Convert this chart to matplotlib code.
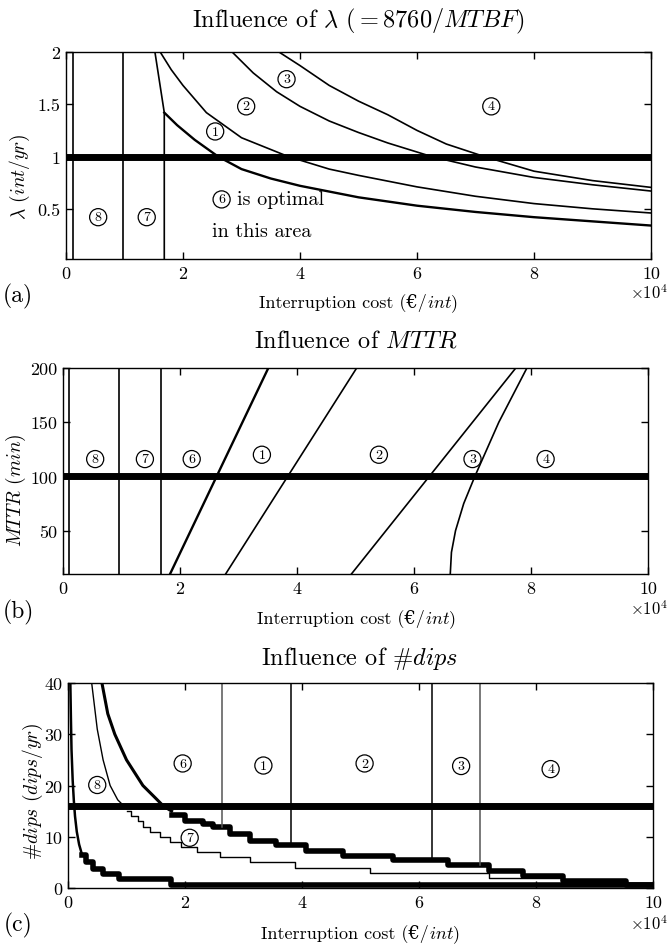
import numpy as np
import matplotlib
matplotlib.use("Agg")
import matplotlib.pyplot as plt

plt.rcParams['mathtext.fontset'] = 'cm'
plt.rcParams['font.family'] = ['cmr10', 'DejaVu Serif']
plt.rcParams['axes.formatter.use_mathtext'] = True

# ---------------- data (x in units of 1e4 EUR/int) ----------------
# Panel (a): lambda boundaries
a_vlines = [0.12, 0.97]
a_b76_x = [1.52, 1.68, 1.68]
a_b76_y = [2.0, 1.42, 0.02]
a_c61_x = [1.68, 1.9, 2.2, 2.6, 3.0, 3.5, 4.0, 5.0, 6.0, 7.0, 8.0, 9.0, 10.0]
a_c61_y = [1.42, 1.30, 1.16, 1.00, 0.88, 0.79, 0.72, 0.61, 0.53, 0.47, 0.42, 0.38, 0.34]
a_c12_x = [1.61, 1.8, 2.0, 2.4, 3.0, 3.8, 4.5, 5.0, 6.0, 7.0, 8.0, 9.0, 10.0]
a_c12_y = [2.0, 1.83, 1.68, 1.42, 1.18, 1.0, 0.88, 0.82, 0.71, 0.62, 0.55, 0.50, 0.46]
a_c23_x = [2.84, 3.2, 3.6, 4.0, 4.5, 5.0, 5.5, 6.25, 7.0, 8.0, 9.0, 10.0]
a_c23_y = [2.0, 1.8, 1.62, 1.48, 1.34, 1.23, 1.13, 1.0, 0.9, 0.8, 0.73, 0.67]
a_c34_x = [3.64, 4.0, 4.5, 5.0, 5.5, 6.0, 6.5, 7.15, 8.0, 9.0, 10.0]
a_c34_y = [2.0, 1.87, 1.68, 1.53, 1.40, 1.25, 1.12, 1.0, 0.86, 0.77, 0.705]
a_nominal = 1.0
a_labels = ['8', '7', '1', '2', '3', '4']
a_lab_x = [0.55, 1.38, 2.55, 3.08, 3.77, 7.27]
a_lab_y = [0.42, 0.42, 1.24, 1.48, 1.74, 1.48]

# Panel (b): MTTR boundaries
b_vlines = [0.11, 0.96, 1.67]
b_c61_x = [1.83, 3.51]
b_c61_y = [10, 200]
b_c12_x = [2.78, 5.02]
b_c12_y = [10, 200]
b_c23_x = [4.93, 7.74]
b_c23_y = [10, 200]
b_c34_x = [6.62, 6.64, 6.71, 6.85, 7.04, 7.45, 7.93]
b_c34_y = [10, 30, 50, 75, 100, 150, 200]
b_nominal = 100
b_labels = ['8', '7', '6', '1', '2', '3', '4']
b_lab_x = [0.55, 1.40, 2.20, 3.40, 5.40, 7.00, 8.25]
b_lab_y = [116, 116, 116, 120, 120, 116, 116]

# Panel (c): #dips boundaries (staircases)
c_A_x = [0.04, 0.05, 0.06, 0.08, 0.10, 0.12, 0.15, 0.19, 0.24, 0.30, 0.43, 0.60, 0.88, 1.76, 10.0]
c_A_y = [40, 33, 27, 21, 17, 14, 11, 8.5, 6.5, 5.0, 3.8, 2.7, 1.7, 0.5, 0.5]
c_B_top_x = [0.405, 0.5, 0.6, 0.72, 0.85, 1.0]
c_B_top_y = [40, 31, 25, 20, 17.2, 15.5]
c_B_x = [1.0, 1.08, 1.19, 1.28, 1.40, 1.57, 1.74, 1.94, 2.20, 2.60, 3.11, 3.88, 5.16, 7.20, 8.47, 10.0]
c_B_y = [15, 14, 13, 12, 11, 10, 9, 8, 7, 6, 5, 4, 3, 2, 0.9, 0.9]
c_C_top_x = [0.58, 0.68, 0.80, 1.0, 1.28, 1.50, 1.63, 1.77]
c_C_top_y = [40, 34, 30, 25, 20, 17.5, 16, 15]
c_C_x = [1.77, 2.00, 2.30, 2.48, 2.77, 3.11, 3.56, 4.07, 4.70, 5.55, 6.50, 7.19, 7.77, 8.47, 9.53, 10.0]
c_C_y = [14.3, 13.1, 12.5, 11.9, 10.5, 9.2, 8.3, 7.3, 6.3, 5.4, 4.4, 3.3, 2.3, 1.4, 0.5, 0.5]
c_vl_x = [2.63, 3.82, 6.23, 7.05]
c_vl_bottom = [11.9, 8.3, 5.4, 4.4]
c_vl_color = ['#555555', '#000000', '#000000', '#555555']
c_nominal = 16
c_labels = ['6', '1', '2', '3', '4', '8', '7']
c_lab_x = [1.96, 3.34, 5.07, 6.72, 8.25, 0.50, 2.08]
c_lab_y = [24.3, 23.9, 24.3, 23.8, 23.2, 20.1, 9.8]

xticks = [0, 2, 4, 6, 8, 10]

# ---------------- figure ----------------
W, H = 668, 945
fig = plt.figure(figsize=(W / 100, H / 100), dpi=100)

def make_ax(l, t, r, b):
    return fig.add_axes([l / W, 1 - b / H, (r - l) / W, (b - t) / H])

axa = make_ax(66, 53, 651, 260)
axb = make_ax(63, 369, 648, 575)
axc = make_ax(68, 684, 653, 889)

def style(ax, yticks, ylim):
    ax.set_xlim(0, 10)
    ax.set_ylim(*ylim)
    ax.set_xticks(xticks)
    ax.set_xticklabels([str(v) for v in xticks])
    ax.set_yticks(yticks)
    ax.set_yticklabels([('%g' % v) for v in yticks])
    ax.tick_params(direction='in', top=True, right=True, length=5, width=1.0,
                   labelsize=13)
    ax.tick_params(axis='x', pad=5)
    ax.tick_params(axis='y', pad=4)
    for s in ax.spines.values():
        s.set_linewidth(1.0)

def circ(ax, xs, ys, labs):
    for x, y, t in zip(xs, ys, labs):
        ax.text(x, y, t, ha='center', va='center', fontsize=10, zorder=10,
                bbox=dict(boxstyle='circle,pad=0.18', fc='white', ec='black', lw=0.9))

lw_thin = 1.2
# ---- panel (a)
ax = axa
for xv in a_vlines:
    ax.axvline(xv, color='black', lw=lw_thin)
ax.plot(a_b76_x, a_b76_y, color='black', lw=lw_thin)
ax.plot(a_c61_x, a_c61_y, color='black', lw=1.7)
ax.plot(a_c12_x, a_c12_y, color='black', lw=lw_thin)
ax.plot(a_c23_x, a_c23_y, color='black', lw=lw_thin)
ax.plot(a_c34_x, a_c34_y, color='black', lw=lw_thin)
ax.axhline(a_nominal, color='black', lw=5)
circ(ax, a_lab_x, a_lab_y, a_labels)
circ(ax, [2.66], [0.59], ['6'])
ax.text(2.93, 0.59, 'is optimal', ha='left', va='center', fontsize=14.5)
ax.text(2.50, 0.29, 'in this area', ha='left', va='center', fontsize=14.5)
style(ax, [0.5, 1, 1.5, 2], (0.02, 2))

# ---- panel (b)
ax = axb
for xv in b_vlines:
    ax.axvline(xv, color='black', lw=lw_thin)
ax.plot(b_c61_x, b_c61_y, color='black', lw=1.7)
ax.plot(b_c12_x, b_c12_y, color='black', lw=lw_thin)
ax.plot(b_c23_x, b_c23_y, color='black', lw=lw_thin)
ax.plot(b_c34_x, b_c34_y, color='black', lw=lw_thin)
ax.axhline(b_nominal, color='black', lw=5)
circ(ax, b_lab_x, b_lab_y, b_labels)
style(ax, [50, 100, 150, 200], (10, 200))

# ---- panel (c)
ax = axc
ax.plot(c_A_x[:9], c_A_y[:9], color='black', lw=1.8)
ax.step(c_A_x[8:], c_A_y[8:], where='post', color='black', lw=4)
ax.plot(c_B_top_x, c_B_top_y, color='black', lw=1.0)
ax.step(c_B_x, c_B_y, where='post', color='black', lw=1.0)
ax.plot(c_C_top_x, c_C_top_y, color='black', lw=2.2)
ax.step(c_C_x, c_C_y, where='post', color='black', lw=4)
for xv, yb, col in zip(c_vl_x, c_vl_bottom, c_vl_color):
    ax.plot([xv, xv], [yb, 40], color=col, lw=1.1)
ax.axhline(c_nominal, color='black', lw=5)
circ(ax, c_lab_x, c_lab_y, c_labels)
style(ax, [0, 10, 20, 30, 40], (0, 40))

# ---------------- texts ----------------
def ftext(x, y, s, **kw):
    return fig.text(x / W, 1 - y / H, s, **kw)

ftext(358, 21, r'Influence of $\lambda$ $(=8760/MTBF)$', ha='center', va='center', fontsize=17.5)
ftext(356, 341, r'Influence of $MTTR$', ha='center', va='center', fontsize=17.5)
ftext(360, 658, r'Influence of #$dips$', ha='center', va='center', fontsize=17.5)

# x labels: plain part (with euro sign via font fallback) + math part
xl_parts = []
for yc, xc in [(308, 358), (624, 356), (939, 360)]:
    t1 = ftext(xc, yc, 'Interruption cost (€/', ha='left', va='baseline', fontsize=13,
               family=['cmr10', 'DejaVu Serif'])
    t2 = ftext(xc, yc, r'$int$)', ha='left', va='baseline', fontsize=13)
    xl_parts.append((xc, t1, t2))
fig.canvas.draw()
rend = fig.canvas.get_renderer()
for xc, t1, t2 in xl_parts:
    w1 = t1.get_window_extent(rend).width
    w2 = t2.get_window_extent(rend).width
    x0 = xc - (w1 + w2) / 2
    t1.set_x(x0 / W)
    t2.set_x((x0 + w1 + 1) / W)

for yc in [293, 609, 924]:
    ftext(668, yc, r'$\times10^4$', ha='right', va='center', fontsize=12)

ftext(18, 296, '(a)', ha='center', va='center', fontsize=17)
ftext(18, 612, '(b)', ha='center', va='center', fontsize=17)
ftext(18, 925, '(c)', ha='center', va='center', fontsize=17)

ftext(20, 177, r'$\lambda$ $(int/yr)$', ha='center', va='center', rotation=90, fontsize=14)
ftext(16, 490, r'$MTTR$ $(min)$', ha='center', va='center', rotation=90, fontsize=14)
ftext(33, 791, r'#$dips$ $(dips/yr)$', ha='center', va='center', rotation=90, fontsize=14)

fig.savefig('out.png', dpi=100)
